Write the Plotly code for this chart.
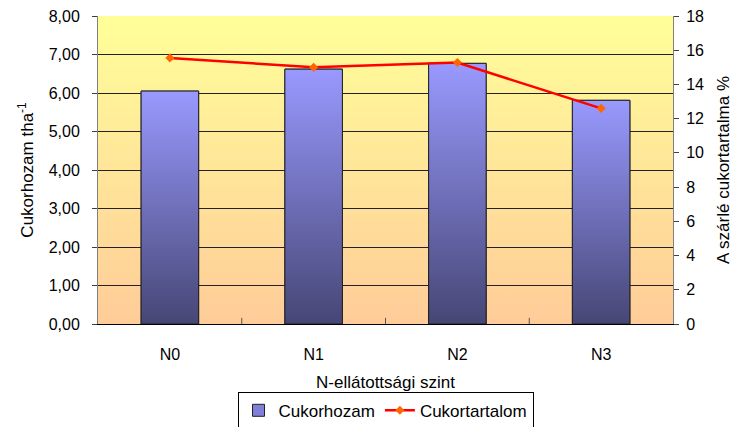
import base64
import plotly.graph_objects as go

categories = ["N0", "N1", "N2", "N3"]
cukorhozam = [6.05, 6.62, 6.77, 5.81]      # t/ha, left axis
cukortartalom = [15.55, 15.0, 15.28, 12.6]  # %, right axis
left_ticks = [0, 1, 2, 3, 4, 5, 6, 7, 8]
right_ticks = [0, 2, 4, 6, 8, 10, 12, 14, 16, 18]

xpos = list(range(len(categories)))
bar_w = 0.40
FONT = "Liberation Sans, Arial, sans-serif"

svg = ('<svg xmlns="http://www.w3.org/2000/svg" width="10" height="100" preserveAspectRatio="none">'
       '<defs><linearGradient id="g" x1="0" y1="0" x2="0" y2="1">'
       '<stop offset="0" stop-color="#FFFF99"/><stop offset="1" stop-color="#FFCC99"/>'
       '</linearGradient></defs><rect width="10" height="100" fill="url(#g)"/></svg>')
bg_src = "data:image/svg+xml;base64," + base64.b64encode(svg.encode()).decode()

fig = go.Figure()

fig.add_trace(go.Bar(
    x=xpos, y=cukorhozam, width=bar_w, name="Cukorhozam",
    marker=dict(color="#8080D8", line=dict(color="#222222", width=1)),
    yaxis="y",
))

# gradient fill over each bar
for xi, v in zip(xpos, cukorhozam):
    fig.add_trace(go.Scatter(
        x=[xi - bar_w / 2, xi + bar_w / 2, xi + bar_w / 2, xi - bar_w / 2, xi - bar_w / 2],
        y=[0, 0, v, v, 0],
        mode="lines", fill="toself",
        line=dict(color="#222222", width=1),
        fillgradient=dict(type="vertical",
                          colorscale=[[0, "#464675"], [1, "#9999FF"]]),
        showlegend=False, hoverinfo="skip", yaxis="y",
    ))

fig.add_trace(go.Scatter(
    x=xpos, y=cukortartalom, name="Cukortartalom", yaxis="y2",
    mode="lines+markers",
    line=dict(color="#FF0000", width=2.5),
    marker=dict(symbol="diamond", size=7, color="#FF6600"),
))

fig.update_layout(
    width=739, height=427,
    margin=dict(l=98, r=66, t=16, b=103, autoexpand=False),
    paper_bgcolor="white",
    plot_bgcolor="rgba(0,0,0,0)",
    separators=", ",
    font=dict(family=FONT, size=16, color="black"),
    showlegend=True,
    legend=dict(orientation="h", x=0.5, xanchor="center", y=-0.22, yanchor="top",
                bordercolor="black", borderwidth=1, font=dict(size=17),
                itemwidth=30, tracegroupgap=0),
    images=[dict(source=bg_src, xref="paper", yref="paper", x=0, y=1,
                 sizex=1, sizey=1, sizing="stretch", layer="below")],
    xaxis=dict(
        range=[-0.5, 3.5], tickvals=xpos, ticktext=categories,
        showline=True, linecolor="black", linewidth=1,
        showgrid=False, zeroline=False, automargin=False,
        tickfont=dict(size=16), ticklabelstandoff=16,
        title=dict(text="N-ellátottsági szint", font=dict(size=17), standoff=13),
    ),
    yaxis=dict(
        range=[0, 8], tickvals=left_ticks, tickformat=".2f",
        showline=True, linecolor="#808080", linewidth=1,
        ticks="outside", ticklen=5, tickcolor="#404040",
        showgrid=True, gridcolor="#222222", gridwidth=1,
        zeroline=False, automargin=False, tickfont=dict(size=16),
        ticklabelstandoff=9,
        title=dict(text="Cukorhozam tha<sup>-1</sup>", font=dict(size=17), standoff=10),
    ),
    yaxis2=dict(
        range=[0, 18], tickvals=right_ticks, overlaying="y", side="right",
        showline=True, linecolor="#808080", linewidth=1,
        ticks="outside", ticklen=5, tickcolor="#404040",
        showgrid=False, zeroline=False, automargin=False, tickfont=dict(size=16),
        ticklabelstandoff=4,
        title=dict(text="A szárlé cukortartalma %", font=dict(size=17), standoff=14),
    ),
    bargap=0.6,
)

# category boundary ticks on x axis (inside), as in the reference
for b in [0.5, 1.5, 2.5]:
    fig.add_shape(type="line", xref="x", yref="paper", x0=b, x1=b, y0=0, y1=0.02,
                  line=dict(color="#555555", width=1))

fig.write_html("out.html", config={"displayModeBar": False},
               post_script="document.body.style.margin='0';document.body.style.overflow='hidden';")
